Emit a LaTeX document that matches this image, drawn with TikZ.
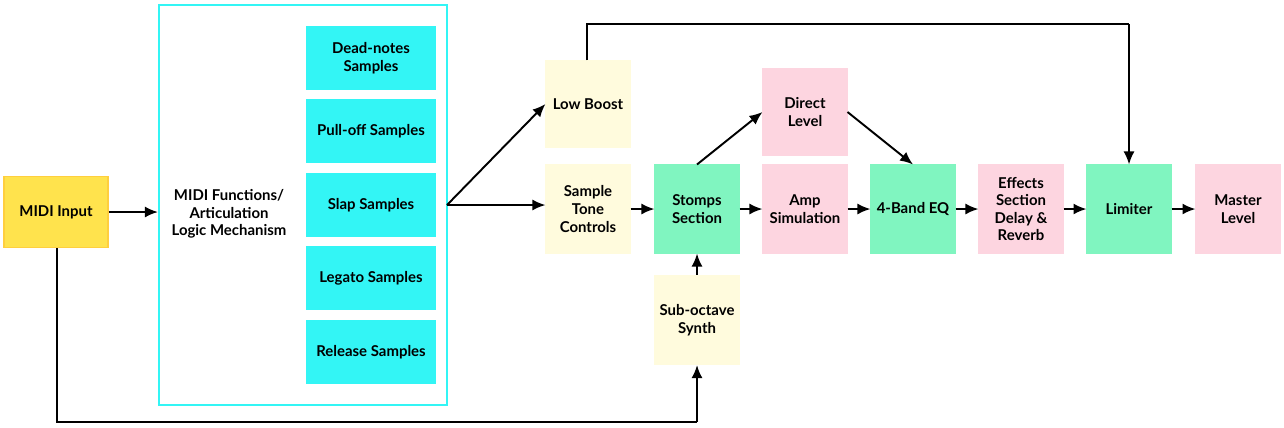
\documentclass[tikz,border=0pt]{standalone}
\usepackage{fontspec}
\setmainfont{Lato}
\usetikzlibrary{arrows.meta}
\definecolor{midiyel}{HTML}{FFE34D}
\definecolor{cyanbx}{HTML}{33F5F5}
\definecolor{paleyel}{HTML}{FFFBDD}
\definecolor{mint}{HTML}{80F5C0}
\definecolor{pinkbx}{HTML}{FDD5E0}
\begin{document}
\begin{tikzpicture}[x=0.02cm,y=-0.02cm,
  box/.style={draw=#1,fill=#1,line width=0.6pt,inner sep=0pt,align=center,
    font=\bfseries\fontsize{8.5}{10}\selectfont},
  arr/.style={line width=1.1pt,-{Latex[length=2.6mm,width=2.2mm]}},
  ln/.style={line width=1.1pt}]
\useasboundingbox (0,0) rectangle (1284,427);
% MIDI input
\node[box=midiyel,minimum width=2.08cm,minimum height=1.42cm,draw=midiyel!80!orange] (midi) at (56,212) {MIDI Input};
% big cyan frame
\node[draw=cyanbx,line width=1.2pt,minimum width=5.76cm,minimum height=8cm,inner sep=0pt] (logic) at (303,205) {};
\node[font=\bfseries\fontsize{8.5}{10}\selectfont,align=center] (logictxt) at (229,214) {MIDI Functions/\\Articulation\\Logic Mechanism};
\tikzset{smp/.style={box=cyanbx,minimum width=2.56cm,minimum height=1.26cm}}
\node[smp] (dead) at (371,58) {Dead-notes\\Samples};
\node[smp] (pull) at (371,131) {Pull-off Samples};
\node[smp] (slap) at (371,205) {Slap Samples};
\node[smp] (leg) at (371,278) {Legato Samples};
\node[smp] (rel) at (371,352) {Release Samples};
% chain
\tikzset{blk/.style={box=#1,minimum width=1.68cm,minimum height=1.76cm}}
\node[blk=paleyel,minimum height=1.72cm] (low) at (588,104) {Low Boost};
\node[blk=paleyel] (tone) at (588,209) {Sample\\Tone\\Controls};
\node[blk=mint] (stomp) at (697,209) {Stomps\\Section};
\node[blk=paleyel,minimum height=1.78cm] (sub) at (697,320) {Sub-octave\\Synth};
\node[blk=pinkbx,minimum height=1.72cm] (direct) at (805,112) {Direct\\Level};
\node[blk=pinkbx] (amp) at (805,209) {Amp\\Simulation};
\node[blk=mint] (eq) at (913,209) {4-Band EQ};
\node[blk=pinkbx] (fx) at (1021,209) {Effects\\Section\\Delay \&\\Reverb};
\node[blk=mint] (lim) at (1129,209) {Limiter};
\node[blk=pinkbx] (master) at (1238,209) {Master\\Level};
\coordinate (split) at (447,205);
\coordinate (bl) at (57,422);
\coordinate (br) at (697,422);
\coordinate (tl) at (587,24);
\coordinate (tr) at (1129,24);
% connectors
\draw[arr] (midi.east) -- (logic.west |- midi.east);
\draw[ln] (midi.south -| bl) -- (bl) -- (br);
\draw[arr] (br) -- (sub.south);
\draw[arr] (split) -- (low.west);
\draw[arr] (split) -- (tone.west |- split);
\draw[ln] (low.north -| tl) -- (tl) -- (tr);
\draw[arr] (tr) -- (lim.north);
\draw[arr] (tone) -- (stomp);
\draw[arr] (sub) -- (stomp);
\draw[arr] (stomp.north) -- (direct.west);
\draw[arr] (direct.east) -- (eq.north);
\draw[arr] (stomp) -- (amp);
\draw[arr] (amp) -- (eq);
\draw[arr] (eq) -- (fx);
\draw[arr] (fx) -- (lim);
\draw[arr] (lim) -- (master);
\end{tikzpicture}
\end{document}
